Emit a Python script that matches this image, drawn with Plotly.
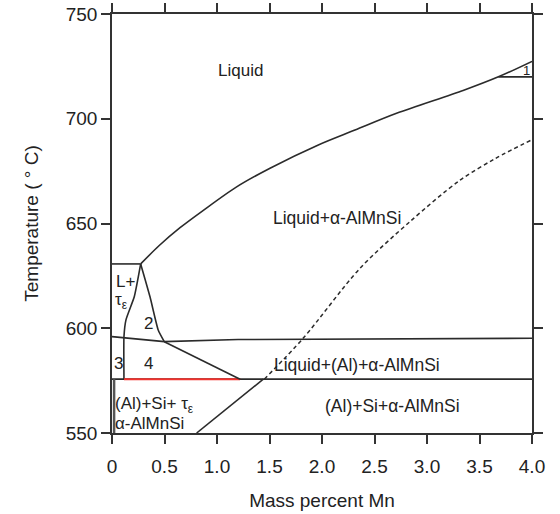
import plotly.graph_objects as go

# ---- data ----
liquidus_x = [0.273, 0.45, 0.648, 0.87, 1.187, 1.505, 1.965, 2.314, 2.71, 3.35, 3.68, 4.0]
liquidus_T = [630.7, 639.5, 648.0, 656.3, 667.5, 676.4, 687.5, 694.6, 702.6, 713.6, 720.0, 727.4]

dashed_x = [1.45, 1.82, 2.36, 2.84, 3.31, 3.65, 4.0]
dashed_T = [575.7, 595.2, 628.5, 651.0, 670.5, 681.0, 690.0]

left_curve_x = [0.273, 0.212, 0.133, 0.114, 0.114]
left_curve_T = [630.7, 615.0, 604.0, 596.0, 575.7]

right_curve_x = [0.273, 0.362, 0.44, 0.498]
right_curve_T = [630.7, 615.0, 599.2, 593.6]

top_short_x = [0.0, 0.273]
top_short_T = [630.7, 630.7]

mid_line_x = [0.0, 0.498, 1.2, 4.0]
mid_line_T = [596.0, 593.6, 594.6, 595.2]

eutectic_x = [0.0, 4.0]
eutectic_T = [575.7, 575.7]

red_x = [0.114, 1.22]
red_T = [575.7, 575.7]

slope4_x = [0.498, 1.22]
slope4_T = [593.6, 575.7]

lower_diag_x = [1.441, 0.806]
lower_diag_T = [575.7, 550.0]

region5_x = [0.02, 0.02]
region5_T = [575.7, 550.0]

tri_x = [3.68, 4.0]
tri_T = [720.0, 720.0]

x_ticks = [0, 0.5, 1.0, 1.5, 2.0, 2.5, 3.0, 3.5, 4.0]
x_tick_labels = ["0", "0.5", "1.0", "1.5", "2.0", "2.5", "3.0", "3.5", "4.0"]
y_ticks = [550, 600, 650, 700, 750]

labels = [
    ("Liquid", 1.22, 722.8, 17, "center"),
    ("Liquid+α-AlMnSi", 2.14, 652.5, 17.5, "center"),
    ("1", 3.95, 722.8, 13, "center"),
    ("L+", 0.124, 622.2, 17, "center"),
    ("τ<sub>ε</sub>", 0.095, 613.0, 17, "center"),
    ("2", 0.346, 602.4, 17, "center"),
    ("3", 0.058, 583.0, 17, "center"),
    ("4", 0.346, 583.0, 17, "center"),
    ("Liquid+(Al)+α-AlMnSi", 2.33, 582.5, 17.5, "center"),
    ("(Al)+Si+ τ<sub>ε</sub>", 0.01, 563.6, 17, "left"),
    ("α-AlMnSi", 0.01, 554.6, 17, "left"),
    ("5", -0.065, 562.4, 17, "center"),
    ("(Al)+Si+α-AlMnSi", 2.667, 563.0, 17.5, "center"),
]

LINE = "#2b2b2b"
FONT = "Liberation Sans, Arial, Helvetica, sans-serif"

fig = go.Figure()


def add_line(x, y, color=LINE, width=1.6, dash="solid", shape="linear", smoothing=0):
    fig.add_trace(go.Scatter(x=x, y=y, mode="lines", showlegend=False,
                             hoverinfo="skip",
                             line=dict(color=color, width=width, dash=dash,
                                       shape=shape, smoothing=smoothing)))


add_line(liquidus_x, liquidus_T, shape="spline", smoothing=0.9)
add_line(dashed_x, dashed_T, width=1.5, dash="4px,3px", shape="spline", smoothing=0.9)
add_line(left_curve_x, left_curve_T, shape="spline", smoothing=0.5)
add_line(right_curve_x, right_curve_T, shape="spline", smoothing=0.5)
add_line(top_short_x, top_short_T)
add_line(mid_line_x, mid_line_T)
add_line(eutectic_x, eutectic_T)
add_line(red_x, red_T, color="#f2322e", width=2)
add_line(slope4_x, slope4_T)
add_line(lower_diag_x, lower_diag_T)
add_line(region5_x, region5_T, color="#555555", width=2.5)
add_line(tri_x, tri_T)

for text, x, y, size, align in labels:
    fig.add_annotation(x=x, y=y, text=text, showarrow=False,
                       xanchor="left" if align == "left" else "center",
                       yanchor="middle",
                       font=dict(family=FONT, size=size, color="#222222"))

axis_common = dict(showline=True, linecolor="#333333", linewidth=1.5, mirror="allticks",
                   ticks="outside", ticklen=9, tickwidth=1.5, tickcolor="#333333",
                   showgrid=False, zeroline=False, automargin=False,
                   tickfont=dict(family=FONT, size=19, color="#222222"))

fig.update_xaxes(range=[0, 4.0], tickvals=x_ticks, ticktext=x_tick_labels,
                 ticklabelstandoff=6,
                 title=dict(text="Mass percent Mn", standoff=18,
                            font=dict(family=FONT, size=19, color="#222222")),
                 **axis_common)
fig.update_yaxes(range=[550, 750], tickvals=y_ticks,
                 title=dict(text="Temperature ( ° C)", standoff=22,
                            font=dict(family=FONT, size=19, color="#222222")),
                 **axis_common)

fig.update_layout(width=560, height=514,
                  margin=dict(l=112, r=28, t=14, b=81, autoexpand=False),
                  plot_bgcolor="white", paper_bgcolor="white")

fig.write_html("out.html")
